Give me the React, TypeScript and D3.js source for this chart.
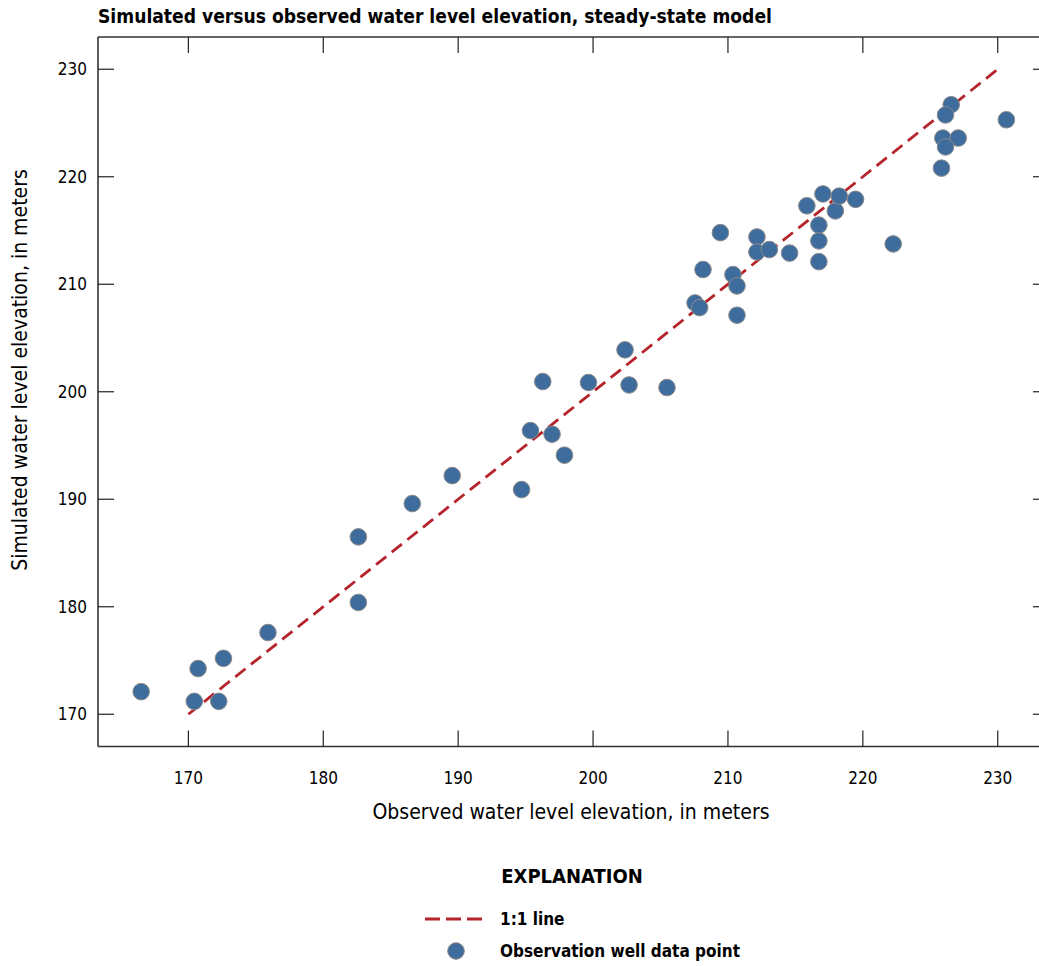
import { useEffect, useRef } from "react";
import * as d3 from "d3";

// Observed vs simulated water level elevation (meters)
const observed = [
  166.5, 170.44, 172.25, 170.72, 172.6, 175.9, 182.6, 182.6, 186.6, 189.56, 194.7,
  202.37, 196.27, 199.66, 202.67, 205.48, 195.36, 196.96, 197.88,
  209.44, 208.15, 207.56, 207.9, 210.37, 210.67, 210.67, 212.15, 212.15, 213.07,
  214.57, 215.85, 217.04, 216.74, 216.74, 216.74, 217.96, 218.25, 219.46,
  226.55, 226.13, 225.93, 227.07, 226.13, 225.83, 230.64, 222.25,
];
const simulated = [
  172.1, 171.2, 171.2, 174.25, 175.2, 177.6, 180.4, 186.5, 189.6, 192.2, 190.9,
  203.9, 200.95, 200.86, 200.63, 200.39, 196.39, 196.05, 194.1,
  214.8, 211.37, 208.26, 207.83, 210.9, 209.84, 207.12, 214.4, 213.0, 213.23,
  212.9, 217.3, 218.4, 215.5, 214.03, 212.1, 216.82, 218.2, 217.9,
  226.7, 225.75, 223.6, 223.6, 222.77, 220.8, 225.3, 213.75,
];
const ticks = [170, 180, 190, 200, 210, 220, 230];
const oneToOne = [170, 230];

const FONT = "'Liberation Sans Narrow', 'DejaVu Sans Condensed', 'Arial Narrow', sans-serif";
const DOT = "#3e6c9c";
const RED = "#b5232b";

export default function App() {
  const ref = useRef<SVGSVGElement>(null);

  useEffect(() => {
    if (!ref.current) return;
    const svg = d3.select(ref.current);
    svg.selectAll("*").remove();

    const left = 98, right = 1049, top = 37, bottom = 746.5;
    const x = d3.scaleLinear().domain([163.3, 233.8]).range([left, right]);
    const y = d3.scaleLinear().domain([167, 233]).range([bottom, top]);

    // Title
    svg
      .append("text")
      .attr("x", 98)
      .attr("y", 23)
      .style("font-family", FONT)
      .style("font-size", "19.1px")
      .style("font-weight", "bold")
      .text("Simulated versus observed water level elevation, steady-state model");

    // Frame (left, top, bottom; right edge falls outside the picture)
    const frame = svg.append("g").attr("stroke", "#333").attr("stroke-width", 1.6);
    frame.append("line").attr("x1", left).attr("x2", left).attr("y1", top).attr("y2", bottom);
    frame.append("line").attr("x1", left).attr("x2", right).attr("y1", top).attr("y2", top);
    frame.append("line").attr("x1", left).attr("x2", right).attr("y1", bottom).attr("y2", bottom);
    frame.append("line").attr("x1", right).attr("x2", right).attr("y1", top).attr("y2", bottom);

    // Inward ticks on all sides
    const tk = svg.append("g").attr("stroke", "#222").attr("stroke-width", 1.2);
    ticks.forEach((t) => {
      tk.append("line").attr("x1", x(t)).attr("x2", x(t)).attr("y1", bottom).attr("y2", bottom - 16);
      tk.append("line").attr("x1", x(t)).attr("x2", x(t)).attr("y1", top).attr("y2", top + 16);
      tk.append("line").attr("x1", left).attr("x2", left + 16).attr("y1", y(t)).attr("y2", y(t));
      tk.append("line").attr("x1", right).attr("x2", right - 16).attr("y1", y(t)).attr("y2", y(t));
    });

    // Tick labels
    svg
      .append("g")
      .selectAll("text")
      .data(ticks)
      .join("text")
      .attr("x", (d) => x(d))
      .attr("y", 784)
      .attr("text-anchor", "middle")
      .style("font-family", FONT)
      .style("font-size", "17px")
      .text((d) => d);
    svg
      .append("g")
      .selectAll("text")
      .data(ticks)
      .join("text")
      .attr("x", 87)
      .attr("y", (d) => y(d) + 6)
      .attr("text-anchor", "end")
      .style("font-family", FONT)
      .style("font-size", "17px")
      .text((d) => d);

    // Axis labels
    svg
      .append("text")
      .attr("x", 571)
      .attr("y", 819)
      .attr("text-anchor", "middle")
      .style("font-family", FONT)
      .style("font-size", "21px")
      .text("Observed water level elevation, in meters");
    svg
      .append("text")
      .attr("transform", "translate(27,370) rotate(-90)")
      .attr("text-anchor", "middle")
      .style("font-family", FONT)
      .style("font-size", "21px")
      .text("Simulated water level elevation, in meters");

    // 1:1 line
    svg
      .append("line")
      .attr("x1", x(oneToOne[0]))
      .attr("y1", y(oneToOne[0]))
      .attr("x2", x(oneToOne[1]))
      .attr("y2", y(oneToOne[1]))
      .attr("stroke", RED)
      .attr("stroke-width", 2.8)
      .attr("stroke-dasharray", "13 7");

    // Points
    svg
      .append("g")
      .selectAll("circle")
      .data(observed.map((o, i) => [o, simulated[i]]))
      .join("circle")
      .attr("cx", (d) => x(d[0]))
      .attr("cy", (d) => y(d[1]))
      .attr("r", 8.3)
      .attr("fill", DOT)
      .attr("stroke", "#8a8a8a")
      .attr("stroke-width", 1);

    // Explanation
    svg
      .append("text")
      .attr("x", 572)
      .attr("y", 883)
      .attr("text-anchor", "middle")
      .style("font-family", FONT)
      .style("font-size", "20px")
      .style("font-weight", "bold")
      .text("EXPLANATION");
    svg
      .append("line")
      .attr("x1", 425)
      .attr("x2", 483)
      .attr("y1", 919)
      .attr("y2", 919)
      .attr("stroke", RED)
      .attr("stroke-width", 2.8)
      .attr("stroke-dasharray", "15 6");
    svg
      .append("text")
      .attr("x", 500)
      .attr("y", 925)
      .style("font-family", FONT)
      .style("font-size", "17px")
      .style("font-weight", "bold")
      .text("1:1 line");
    svg
      .append("circle")
      .attr("cx", 456)
      .attr("cy", 951)
      .attr("r", 8.3)
      .attr("fill", DOT)
      .attr("stroke", "#8a8a8a")
      .attr("stroke-width", 1);
    svg
      .append("text")
      .attr("x", 500)
      .attr("y", 957)
      .style("font-family", FONT)
      .style("font-size", "17px")
      .style("font-weight", "bold")
      .text("Observation well data point");
  }, []);

  return (
    <svg
      ref={ref}
      width={1039}
      height={966}
      style={{ position: "absolute", left: 0, top: 0, background: "#fff" }}
    />
  );
}
